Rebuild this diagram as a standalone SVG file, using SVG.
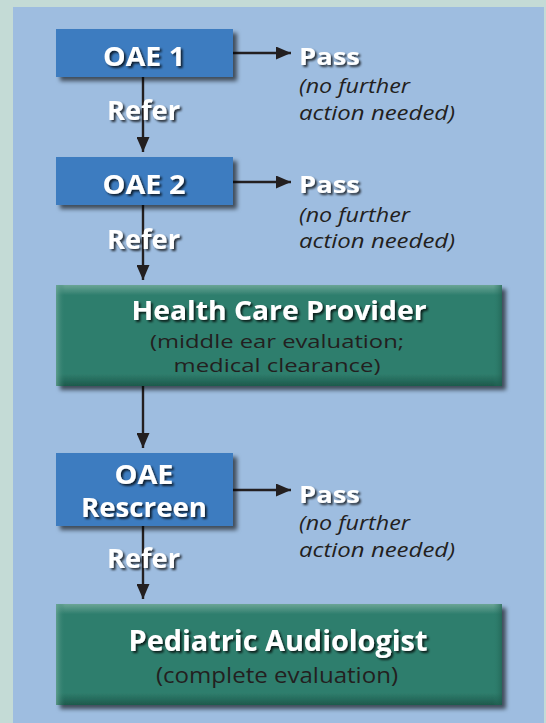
<svg xmlns="http://www.w3.org/2000/svg" width="546" height="723" viewBox="0 0 546 723">
<defs>
<style>
.bt{font-family:"Open Sans","Liberation Sans",sans-serif;font-weight:bold;fill:#ffffff;filter:url(#ts)}
.sub{font-family:"Open Sans","Liberation Sans",sans-serif;fill:#231f20}
.it{font-family:"Open Sans","Liberation Sans",sans-serif;font-style:italic;fill:#231f20}
.blue{fill:#3d7bc0}
.ln{stroke:#231f20;stroke-width:2.4;fill:none}
</style>
<filter id="bs" x="-10%" y="-20%" width="130%" height="150%">
<feGaussianBlur in="SourceAlpha" stdDeviation="2"/>
<feOffset dx="4" dy="4" result="o"/>
<feFlood flood-color="#000" flood-opacity="0.6"/>
<feComposite in2="o" operator="in"/>
<feMerge><feMergeNode/><feMergeNode in="SourceGraphic"/></feMerge>
</filter>
<filter id="ts" x="-10%" y="-30%" width="130%" height="170%">
<feGaussianBlur in="SourceAlpha" stdDeviation="1"/>
<feOffset dx="1.5" dy="2" result="o"/>
<feFlood flood-color="#000" flood-opacity="0.75"/>
<feComposite in2="o" operator="in"/>
<feMerge><feMergeNode/><feMergeNode in="SourceGraphic"/></feMerge>
</filter>
<linearGradient id="gtop" x1="0" y1="0" x2="0" y2="1">
<stop offset="0" stop-color="#6aa596"/>
<stop offset="0.1" stop-color="#2f7e6d"/>
<stop offset="0.88" stop-color="#2f7e6d"/>
<stop offset="1" stop-color="#1d5a4c"/>
</linearGradient>
<linearGradient id="gleft" x1="0" y1="0" x2="1" y2="0">
<stop offset="0" stop-color="#6aa596" stop-opacity="0.8"/>
<stop offset="0.02" stop-color="#2f7e6d" stop-opacity="0"/>
<stop offset="0.98" stop-color="#2f7e6d" stop-opacity="0"/>
<stop offset="1" stop-color="#1d5a4c" stop-opacity="0.6"/>
</linearGradient>
<marker id="ah" markerWidth="15" markerHeight="13" refX="15" refY="6.5" orient="auto" markerUnits="userSpaceOnUse">
<path d="M0,0 L15,6.5 L0,13 Z" fill="#231f20"/>
</marker>
</defs>
<rect x="0" y="0" width="546" height="723" fill="#c4dbd6"/>
<rect x="13" y="7" width="531" height="716" fill="#9ebde0"/>

<g id="connectors">
<line class="ln" x1="233" y1="53" x2="291" y2="53" marker-end="url(#ah)"/>
<line class="ln" x1="233" y1="182" x2="291" y2="182" marker-end="url(#ah)"/>
<line class="ln" x1="233" y1="490" x2="291" y2="490" marker-end="url(#ah)"/>
<line class="ln" x1="143" y1="77" x2="143" y2="152" marker-end="url(#ah)"/>
<line class="ln" x1="143" y1="205" x2="143" y2="280" marker-end="url(#ah)"/>
<line class="ln" x1="143" y1="386" x2="143" y2="448" marker-end="url(#ah)"/>
<line class="ln" x1="143" y1="526" x2="143" y2="599" marker-end="url(#ah)"/>
<text class="bt" x="107" y="120" font-size="26" textLength="73" lengthAdjust="spacingAndGlyphs">Refer</text>
<text class="bt" x="107" y="249" font-size="26" textLength="73" lengthAdjust="spacingAndGlyphs">Refer</text>
<text class="bt" x="107" y="568" font-size="26" textLength="73" lengthAdjust="spacingAndGlyphs">Refer</text>
</g>

<g id="oae1">
<rect class="blue" x="56" y="29" width="177" height="48" filter="url(#bs)"/>
<text class="bt" x="144" y="66" font-size="27" text-anchor="middle" textLength="82" lengthAdjust="spacingAndGlyphs">OAE 1</text>
</g>
<g id="pass1">
<text class="bt" x="299" y="65" font-size="24" textLength="61" lengthAdjust="spacingAndGlyphs">Pass</text>
<text class="it" x="299" y="93" font-size="20" textLength="111" lengthAdjust="spacingAndGlyphs">(no further</text>
<text class="it" x="299" y="120" font-size="20" textLength="156" lengthAdjust="spacingAndGlyphs">action needed)</text>
</g>

<g id="oae2">
<rect class="blue" x="56" y="157" width="177" height="48" filter="url(#bs)"/>
<text class="bt" x="144" y="194" font-size="27" text-anchor="middle" textLength="83" lengthAdjust="spacingAndGlyphs">OAE 2</text>
</g>
<g id="pass2">
<text class="bt" x="299" y="193" font-size="24" textLength="61" lengthAdjust="spacingAndGlyphs">Pass</text>
<text class="it" x="299" y="222" font-size="20" textLength="111" lengthAdjust="spacingAndGlyphs">(no further</text>
<text class="it" x="299" y="248" font-size="20" textLength="156" lengthAdjust="spacingAndGlyphs">action needed)</text>
</g>

<g id="hcp">
<rect x="56" y="285" width="446" height="101" fill="url(#gtop)" filter="url(#bs)"/>
<rect x="56" y="285" width="446" height="101" fill="url(#gleft)"/>
<text class="bt" x="279" y="320" font-size="27" text-anchor="middle" textLength="295" lengthAdjust="spacingAndGlyphs">Health Care Provider</text>
<text class="sub" x="277" y="348" font-size="19" text-anchor="middle" textLength="254" lengthAdjust="spacingAndGlyphs">(middle ear evaluation;</text>
<text class="sub" x="277" y="372" font-size="19" text-anchor="middle" textLength="207" lengthAdjust="spacingAndGlyphs">medical clearance)</text>
</g>

<g id="rescreen">
<rect class="blue" x="56" y="453" width="177" height="73" filter="url(#bs)"/>
<text class="bt" x="144" y="484" font-size="26" text-anchor="middle" textLength="59" lengthAdjust="spacingAndGlyphs">OAE</text>
<text class="bt" x="144" y="517" font-size="26" text-anchor="middle" textLength="126" lengthAdjust="spacingAndGlyphs">Rescreen</text>
</g>
<g id="pass3">
<text class="bt" x="299" y="503" font-size="24" textLength="61" lengthAdjust="spacingAndGlyphs">Pass</text>
<text class="it" x="299" y="530" font-size="20" textLength="111" lengthAdjust="spacingAndGlyphs">(no further</text>
<text class="it" x="299" y="557" font-size="20" textLength="156" lengthAdjust="spacingAndGlyphs">action needed)</text>
</g>

<g id="audiologist">
<rect x="56" y="604" width="446" height="101" fill="url(#gtop)" filter="url(#bs)"/>
<rect x="56" y="604" width="446" height="101" fill="url(#gleft)"/>
<text class="bt" x="278" y="651" font-size="28" text-anchor="middle" textLength="299" lengthAdjust="spacingAndGlyphs">Pediatric Audiologist</text>
<text class="sub" x="277" y="683" font-size="21" text-anchor="middle" textLength="242" lengthAdjust="spacingAndGlyphs">(complete evaluation)</text>
</g>
</svg>
